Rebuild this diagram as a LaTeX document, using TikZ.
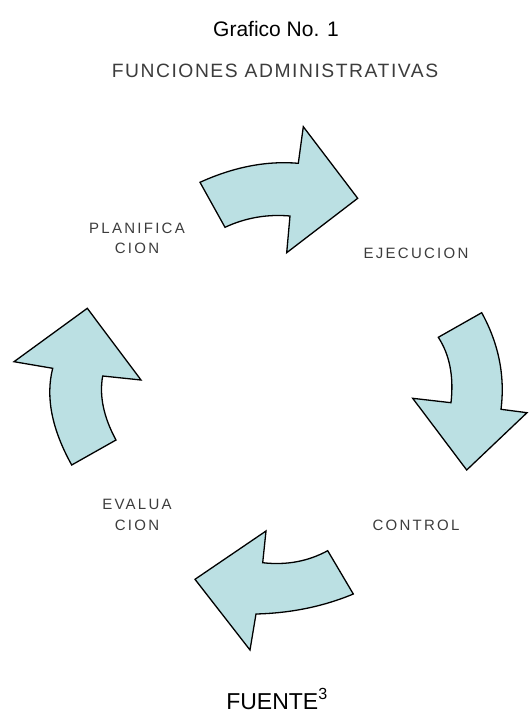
\documentclass[tikz,border=0pt]{standalone}
\usepackage{fontspec}
\setmainfont{Liberation Sans}
\newfontfamily\spaced[LetterSpace=15]{Liberation Sans}
\newfontfamily\subspaced[LetterSpace=8]{Liberation Sans}
\definecolor{arrowfill}{RGB}{187,224,227}
\definecolor{labelgray}{RGB}{60,60,60}
\begin{document}
\begin{tikzpicture}[x=1pt,y=-1pt,
  bluearrow/.style={draw=black,line width=1.3pt,fill=arrowfill,line join=miter},
  lbl/.style={text=labelgray,font=\spaced\fontsize{15}{20}\selectfont,inner sep=0pt,anchor=base},
  ttl/.style={font=\fontsize{21}{24}\selectfont,inner sep=0pt,anchor=base},
  sub/.style={text=labelgray,font=\subspaced\fontsize{19.3}{22}\selectfont,inner sep=0pt,anchor=base}]
\useasboundingbox (0,0) rectangle (528,715);
% titles
\node[ttl] (title) at (276,36) {Grafico No. 1};
\node[sub] (subtitle) at (275,77) {FUNCIONES ADMINISTRATIVAS};
% top arrow
\draw[bluearrow] (200,182.3) -- (225,227.3)
  .. controls (245.6,217.7) and (267.3,214) .. (290,216)
  -- (286.7,252.7) -- (357.7,198.3) -- (303.3,126.7) -- (298.3,163.3)
  .. controls (266.7,160.6) and (233.9,166.9) .. (200,182.3) -- cycle;
% right arrow
\draw[bluearrow] (438.3,337.3) -- (481.7,312.7)
  .. controls (498.7,343.6) and (505.2,375.8) .. (501,409.3)
  -- (527,412.7) -- (466.7,470) -- (412.7,398.3) -- (451,402.7)
  .. controls (453.9,376.5) and (449.7,354.7) .. (438.3,337.3) -- cycle;
% bottom arrow
\draw[bluearrow] (195,579.3) -- (266,531) -- (262.7,562.7)
  .. controls (286.4,565.4) and (308,561.4) .. (327.7,550.7)
  -- (353.3,594)
  .. controls (323.6,606.4) and (291.2,613.1) .. (256,614)
  -- (250,650) -- cycle;
% left arrow
\draw[bluearrow] (87.3,308.3) -- (141,380) -- (102.7,376)
  .. controls (99.1,395.6) and (103.5,416.9) .. (116,440)
  -- (71.7,465)
  .. controls (51.8,429.2) and (45.4,397) .. (52.7,368.3)
  -- (14,361.7) -- cycle;
% labels
\node[lbl] (plan1) at (137,233) {PLANIFICA};
\node[lbl] (plan2) at (137,253) {CION};
\node[lbl] (ejec) at (416,258) {EJECUCION};
\node[lbl] (eval1) at (137,509) {EVALUA};
\node[lbl] (eval2) at (137,530) {CION};
\node[lbl] (ctrl) at (416,530) {CONTROL};
\node[ttl,font=\fontsize{23}{27}\selectfont] (fuente) at (277,709) {FUENTE\textsuperscript{3}};
\end{tikzpicture}
\end{document}
